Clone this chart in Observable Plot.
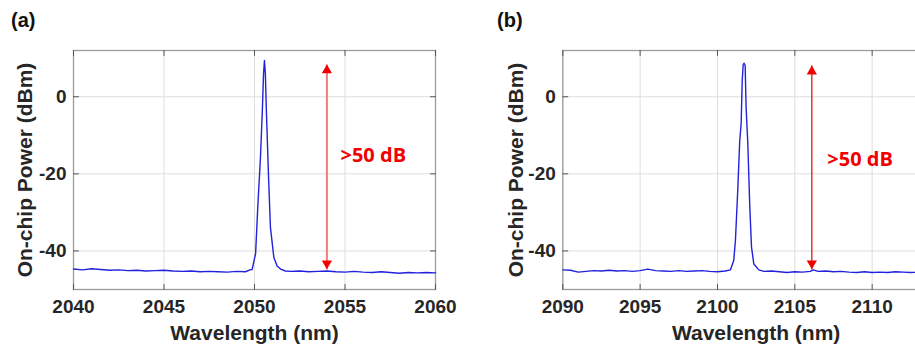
<!DOCTYPE html>
<html><head><meta charset="utf-8">
<script src="https://cdn.jsdelivr.net/npm/d3@7"></script>
<script src="https://cdn.jsdelivr.net/npm/@observablehq/plot@0.6"></script>
<style>
html,body{margin:0;padding:0;width:915px;height:348px;overflow:hidden;background:#fff;}
#root{position:relative;width:915px;height:348px;overflow:hidden;}
.panel{position:absolute;top:0;}
.panel svg{max-width:none !important;}
.tag{position:absolute;font-family:"Liberation Sans",Arial,sans-serif;font-weight:bold;font-size:20px;line-height:20px;color:#111;}
</style></head><body><div id="root"></div>
<script>
// Spectrum (a): [wavelength nm, power dBm]
const spectrumA = [
  [2040,-44.7],[2040.5,-44.9],[2041,-44.6],[2041.5,-44.8],[2042,-45.0],[2042.5,-44.9],[2043,-45.1],[2043.5,-45.0],
  [2044,-45.2],[2044.5,-45.1],[2045,-45.0],[2045.5,-45.2],[2046,-45.3],[2046.5,-45.2],[2047,-45.4],[2047.5,-45.3],
  [2048,-45.4],[2048.5,-45.5],[2049,-45.3],[2049.5,-45.4],[2049.75,-44.9],[2049.87,-44.8],[2050.06,-40.7],[2050.18,-28.7],
  [2050.33,-15.7],[2050.44,-2.7],[2050.5,6.0],[2050.55,9.4],[2050.6,6.0],[2050.65,-2.7],[2050.77,-20.0],[2050.88,-33.9],
  [2051.07,-41.7],[2051.25,-43.9],[2051.44,-44.7],[2051.7,-45.2],[2052,-45.3],[2052.5,-45.2],[2053,-45.4],[2053.5,-45.3],
  [2054,-45.2],[2054.5,-45.4],[2055,-45.5],[2055.5,-45.3],[2056,-45.5],[2056.5,-45.6],[2057,-45.4],[2057.5,-45.6],
  [2058,-45.8],[2058.5,-45.6],[2059,-45.7],[2059.5,-45.6],[2060,-45.7]
];
// Spectrum (b): [wavelength nm, power dBm]
const spectrumB = [
  [2090,-44.9],[2090.5,-45.0],[2091,-45.5],[2091.5,-45.3],[2092,-45.1],[2092.5,-45.2],[2093,-45.0],[2093.5,-45.2],
  [2094,-45.1],[2094.5,-45.3],[2095,-45.1],[2095.5,-44.7],[2096,-45.1],[2096.5,-45.2],[2097,-45.3],[2097.5,-45.1],
  [2098,-45.3],[2098.5,-45.2],[2099,-45.1],[2099.5,-45.3],[2100,-45.4],[2100.5,-45.2],[2100.84,-44.9],[2101.05,-42.5],
  [2101.16,-37.3],[2101.31,-24.3],[2101.44,-11.3],[2101.53,-7.0],[2101.6,4.2],[2101.66,8.3],[2101.72,8.7],[2101.79,8.1],
  [2101.85,-2.8],[2101.96,-12.0],[2102.09,-28.7],[2102.2,-39.0],[2102.35,-43.4],[2102.67,-44.9],[2103,-45.3],[2103.5,-45.2],
  [2104,-45.4],[2104.5,-45.6],[2105,-45.4],[2105.5,-45.5],[2106,-45.3],[2106.2,-44.9],[2106.5,-45.3],[2107,-45.2],
  [2107.5,-45.4],[2108,-45.3],[2108.5,-45.5],[2109,-45.6],[2109.5,-45.4],[2110,-45.6],[2110.5,-45.5],[2111,-45.6],
  [2111.5,-45.4],[2112,-45.5],[2112.5,-45.6],[2113,-45.5],[2114,-45.6],[2115,-45.5]
];
const xTicksA = [2040, 2045, 2050, 2055, 2060];
const xTicksB = [2090, 2095, 2100, 2105, 2110];
const yTicks = [-40, -20, 0];
const arrowA = [{x: 2054, top: 8.4, bottom: -44.8}];
const arrowB = [{x: 2106.1, top: 8.1, bottom: -44.8}];
const noteA = [{x: 2054.75, y: -15.2, text: ">50 dB"}];
const noteB = [{x: 2107.1, y: -16.3, text: ">50 dB"}];
const xLabel = "Wavelength (nm)";
const yLabel = "On-chip Power (dBm)";
const panelTags = ["(a)", "(b)"];

const tickShape = {draw(context, l) { context.moveTo(0, 0); context.lineTo(0, -l); }};

function panel({data, xDomain, xTicks, arrow, note, arrowStroke, arrowWidth, width, marginLeft, yLabelDx}) {
  const font = "'Liberation Sans', Arial, sans-serif";
  const tk = {length: 5, anchor: "start", shape: tickShape, stroke: "#555", strokeWidth: 1};
  return Plot.plot({
    width, height: 348, marginLeft, marginRight: 20, marginTop: 50, marginBottom: 59,
    style: {fontFamily: font, fontWeight: "bold", fontSize: "19px", color: "#262626", background: "transparent", overflow: "visible", maxWidth: "none"},
    x: {domain: xDomain},
    y: {domain: [-50, 12]},
    marks: [
      Plot.gridX(xTicks, {stroke: "#dedede", strokeOpacity: 1}),
      Plot.gridY(yTicks, {stroke: "#dedede", strokeOpacity: 1}),
      Plot.frame({stroke: "#9c9c9c", strokeWidth: 1.3}),
      Plot.vector(xTicks, {...tk, x: d => d, frameAnchor: "bottom", rotate: 0}),
      Plot.vector(xTicks, {...tk, x: d => d, frameAnchor: "top", rotate: 180}),
      Plot.vector(yTicks, {...tk, y: d => d, frameAnchor: "left", rotate: 90}),
      Plot.vector(yTicks, {...tk, y: d => d, frameAnchor: "right", rotate: -90}),
      Plot.axisX(xTicks, {anchor: "bottom", tickSize: 0, tickPadding: 10, label: null, fontSize: 19, fill: "#262626", tickFormat: d => String(d)}),
      Plot.axisY(yTicks, {anchor: "left", tickSize: 0, tickPadding: 7, label: null, fontSize: 19, fill: "#262626", tickFormat: d => String(d)}),
      Plot.text([xLabel], {frameAnchor: "bottom", lineAnchor: "middle", textAnchor: "middle", dy: 44, text: d => d, fontSize: 21, fontWeight: "bold", fill: "#262626"}),
      Plot.text([yLabel], {frameAnchor: "left", lineAnchor: "middle", textAnchor: "middle", dx: yLabelDx, rotate: -90, text: d => d, fontSize: 21, fontWeight: "bold", fill: "#262626"}),
      Plot.line(data, {x: d => d[0], y: d => d[1], stroke: "#2222dc", strokeWidth: 1.4}),
      Plot.link(arrow, {x1: "x", x2: "x", y1: "top", y2: "bottom", stroke: arrowStroke, strokeWidth: arrowWidth}),
      Plot.dot(arrow, {x: "x", y: "top", symbol: "triangle", r: 3.8, fill: "#f00000", stroke: null, dy: 6}),
      Plot.dot(arrow, {x: "x", y: "bottom", symbol: "triangle", r: 3.8, fill: "#f00000", stroke: null, rotate: 180, dy: -6}),
      Plot.text(note, {x: "x", y: "y", text: "text", textAnchor: "start", fill: "#f00000", fontSize: 20, fontWeight: "bold", fontFamily: "'Open Sans', sans-serif"})
    ]
  });
}

const root = document.getElementById("root");
const wrapA = document.createElement("div");
wrapA.className = "panel"; wrapA.style.left = "0px"; wrapA.style.width = "455px";
wrapA.appendChild(panel({data: spectrumA, xDomain: [2040, 2060], xTicks: xTicksA, arrow: arrowA, note: noteA,
  arrowStroke: "#f27c7c", arrowWidth: 2, width: 455, marginLeft: 73, yLabelDx: -48}));
root.appendChild(wrapA);

const wrapB = document.createElement("div");
wrapB.className = "panel"; wrapB.style.left = "455px"; wrapB.style.width = "514px";
wrapB.appendChild(panel({data: spectrumB, xDomain: [2090, 2115], xTicks: xTicksB, arrow: arrowB, note: noteB,
  arrowStroke: "#e00000", arrowWidth: 1.2, width: 514, marginLeft: 107.3, yLabelDx: -47}));
root.appendChild(wrapB);

const tagA = document.createElement("div");
tagA.className = "tag"; tagA.style.left = "11px"; tagA.style.top = "10px"; tagA.textContent = panelTags[0];
root.appendChild(tagA);
const tagB = document.createElement("div");
tagB.className = "tag"; tagB.style.left = "497px"; tagB.style.top = "10px"; tagB.textContent = panelTags[1];
root.appendChild(tagB);
</script>
</body></html>
